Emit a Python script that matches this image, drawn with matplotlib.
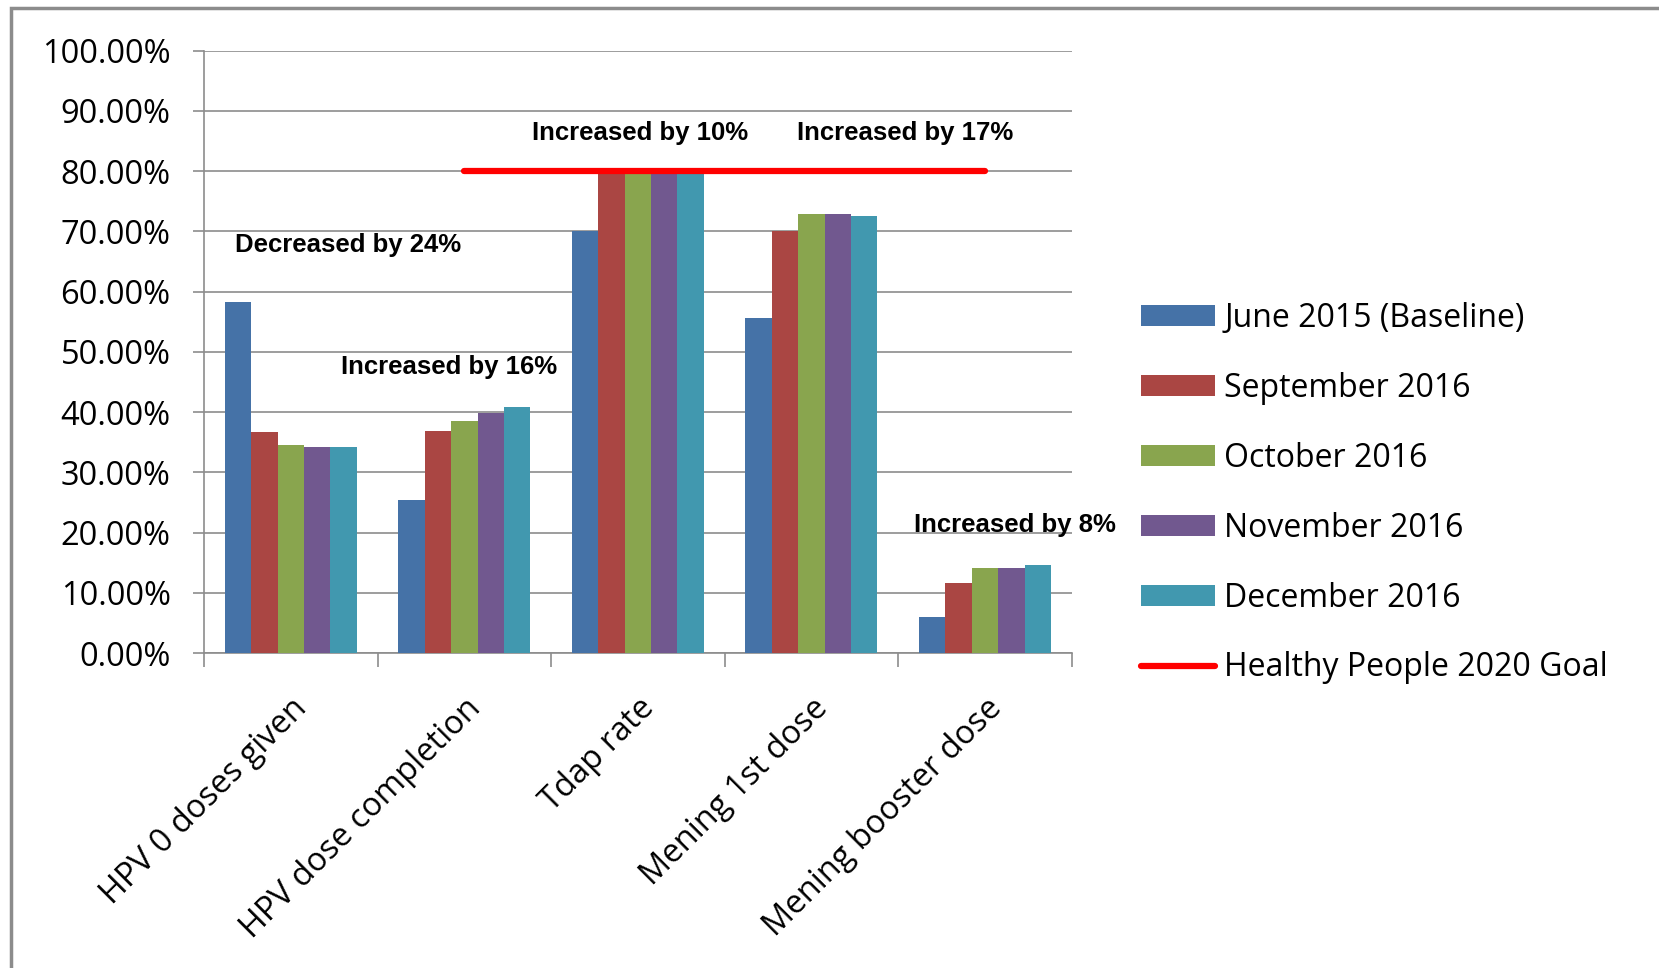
import numpy as np
import matplotlib.pyplot as plt
from matplotlib.patches import Rectangle
from matplotlib.ticker import FuncFormatter

categories = ["HPV 0 doses given", "HPV dose completion", "Tdap rate",
              "Mening 1st dose", "Mening booster dose"]
series_names = ["June 2015 (Baseline)", "September 2016", "October 2016",
                "November 2016", "December 2016"]
june_2015 = [58.3, 25.4, 70.0, 55.6, 5.9]
sep_2016 = [36.7, 36.9, 80.0, 70.1, 11.6]
oct_2016 = [34.5, 38.5, 79.8, 72.9, 14.1]
nov_2016 = [34.2, 39.9, 80.0, 72.9, 14.1]
dec_2016 = [34.2, 40.9, 79.8, 72.6, 14.6]
goal_name = "Healthy People 2020 Goal"
goal_2020 = [np.nan, 80.0, 80.0, 80.0, 80.0]

notes = ["Decreased by 24%", "Increased by 16%", "Increased by 10%",
         "Increased by 17%", "Increased by 8%"]

colors = ["#4572A7", "#AA4643", "#89A54E", "#71588F", "#4198AF"]

font = "Open Sans"

fig = plt.figure(figsize=(16.59, 9.68), dpi=100)
ax = fig.add_axes([0.123, 0.3254, 0.523, 0.6222])

x = np.arange(len(categories))
width = 0.152
all_series = [june_2015, sep_2016, oct_2016, nov_2016, dec_2016]
handles = []
for i, (vals, name, c) in enumerate(zip(all_series, series_names, colors)):
    handles.append(ax.bar(x + (i - 2) * width, vals, width, color=c,
                          label=name, zorder=3))

goal_line, = ax.plot(x, goal_2020, color="#FF0000", lw=4.5,
                     solid_capstyle="round", zorder=4, label=goal_name)
handles.append(goal_line)

ax.set_xlim(-0.5, len(categories) - 0.5)
ax.set_ylim(0, 100)
ax.set_yticks(np.arange(0, 101, 10))
ax.yaxis.set_major_formatter(FuncFormatter(lambda v, p: f"{v:.2f}%"))
ax.grid(axis="y", color="#8c8c8c", lw=1.2, zorder=0)

ax.set_xticks(x)
ax.set_xticks(np.arange(-0.5, len(categories), 1), minor=True)
ax.set_xticklabels(categories, rotation=45, ha="right", va="top",
                   rotation_mode="anchor", fontsize=23.5, family=font)
ax.tick_params(axis="x", which="major", length=0, pad=28)
ax.tick_params(axis="x", which="minor", length=10, color="#8c8c8c", width=1.2)
ax.tick_params(axis="y", length=8, color="#8c8c8c", width=1.2, pad=16,
               labelsize=23.5)
for lbl in ax.get_yticklabels():
    lbl.set_family(font)
for side in ["top", "right"]:
    ax.spines[side].set_visible(False)
for side in ["left", "bottom"]:
    ax.spines[side].set_color("#8c8c8c")
    ax.spines[side].set_linewidth(1.2)

note_pos = [(0.33, 67.7), (0.91, 47.5), (2.01, 86.3), (3.54, 86.3), (4.17, 21.2)]
for txt, (nx, ny) in zip(notes, note_pos):
    ax.text(nx, ny, txt, ha="center", va="center", fontsize=18.5,
            fontweight="bold", family="Liberation Sans", zorder=5)

ax.legend(handles=handles, loc="upper left", bbox_to_anchor=(0.688, 0.688),
          bbox_transform=fig.transFigure, frameon=False,
          prop={"family": font, "size": 23}, handlelength=2.3,
          handleheight=0.65, handletextpad=0.3, labelspacing=1.155,
          borderpad=0, borderaxespad=0)

# outer frame of the chart area
fig.add_artist(Rectangle((11 / 1659, -0.1), 1.2, 1.1 - 8 / 968,
                         transform=fig.transFigure, fill=False,
                         edgecolor="#8c8c8c", lw=2.5))

fig.savefig("out.png", dpi=100)
